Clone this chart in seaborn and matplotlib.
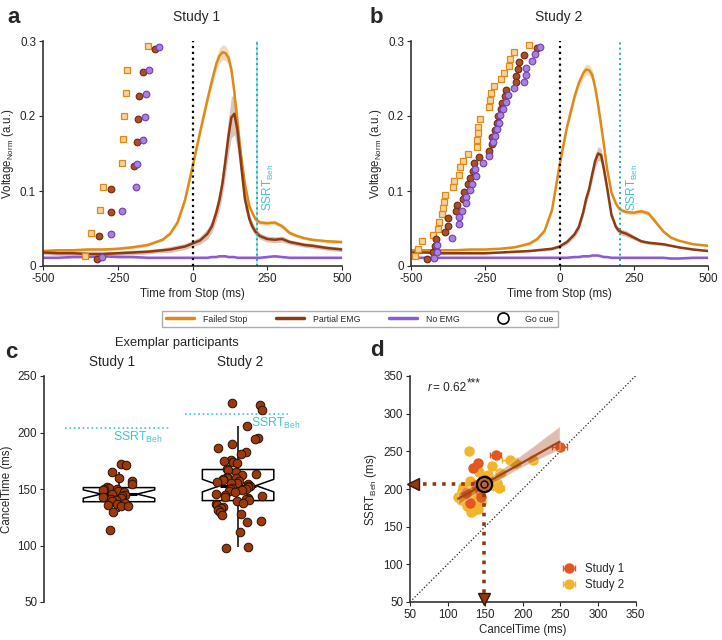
import numpy as np
import pandas as pd
import matplotlib
matplotlib.use("Agg")
import matplotlib.pyplot as plt
from matplotlib.lines import Line2D
import seaborn as sns

# --- time course (panels a, b) ---
t = [-500, -450, -400, -350, -300, -250, -200, -150, -100, -75, -50, -25,
     0, 25, 50, 65, 80, 90, 100, 110, 120, 130, 140, 150, 160, 175, 190, 200, 210, 225,
     250, 275, 300, 325, 350, 375, 400, 450, 500]

a_fs = [0.020, 0.021, 0.021, 0.022, 0.022, 0.023, 0.025, 0.028, 0.035, 0.043, 0.058, 0.088,
        0.132, 0.178, 0.222, 0.247, 0.270, 0.280, 0.285, 0.284, 0.278, 0.262, 0.232, 0.192,
        0.155, 0.110, 0.080, 0.071, 0.063, 0.058,
        0.057, 0.058, 0.053, 0.044, 0.040, 0.037, 0.035, 0.033, 0.032]
a_fs_err = [0.002, 0.002, 0.002, 0.002, 0.002, 0.002, 0.002, 0.002, 0.002, 0.002, 0.003, 0.004,
            0.005, 0.006, 0.007, 0.008, 0.009, 0.010, 0.010, 0.010, 0.009, 0.008, 0.007, 0.006,
            0.005, 0.004, 0.003, 0.003, 0.003, 0.003,
            0.003, 0.003, 0.003, 0.003, 0.002, 0.002, 0.002, 0.002, 0.002]
a_pe = [0.018, 0.017, 0.017, 0.016, 0.016, 0.017, 0.018, 0.019, 0.021, 0.022, 0.024, 0.026,
        0.030, 0.034, 0.043, 0.053, 0.072, 0.088, 0.110, 0.140, 0.172, 0.198, 0.203, 0.182,
        0.145, 0.090, 0.063, 0.053, 0.046, 0.040,
        0.036, 0.035, 0.036, 0.032, 0.030, 0.028, 0.027, 0.024, 0.022]
a_pe_err = [0.003, 0.003, 0.003, 0.003, 0.003, 0.003, 0.003, 0.003, 0.003, 0.004, 0.004, 0.004,
            0.004, 0.005, 0.007, 0.008, 0.011, 0.013, 0.016, 0.020, 0.024, 0.027, 0.028, 0.026,
            0.020, 0.012, 0.008, 0.006, 0.005, 0.004,
            0.004, 0.004, 0.004, 0.003, 0.003, 0.003, 0.003, 0.003, 0.003]
a_ne = [0.011, 0.011, 0.012, 0.012, 0.013, 0.012, 0.012, 0.011, 0.011, 0.011, 0.011, 0.011,
        0.011, 0.011, 0.011, 0.012, 0.012, 0.013, 0.013, 0.013, 0.012, 0.012, 0.012, 0.011,
        0.011, 0.011, 0.011, 0.011, 0.011, 0.011,
        0.012, 0.013, 0.012, 0.011, 0.011, 0.011, 0.011, 0.011, 0.011]

b_fs = [0.021, 0.021, 0.021, 0.021, 0.022, 0.022, 0.023, 0.025, 0.030, 0.036, 0.047, 0.075,
        0.134, 0.185, 0.225, 0.244, 0.257, 0.262, 0.261, 0.255, 0.238, 0.215, 0.188, 0.160,
        0.130, 0.098, 0.083, 0.077, 0.074, 0.072,
        0.071, 0.073, 0.070, 0.058, 0.046, 0.038, 0.034, 0.029, 0.027]
b_fs_err = [0.001, 0.001, 0.001, 0.001, 0.001, 0.001, 0.001, 0.001, 0.002, 0.002, 0.002, 0.003,
            0.004, 0.005, 0.006, 0.006, 0.007, 0.007, 0.007, 0.007, 0.006, 0.006, 0.005, 0.004,
            0.004, 0.003, 0.003, 0.003, 0.003, 0.003,
            0.003, 0.003, 0.003, 0.003, 0.002, 0.002, 0.001, 0.001, 0.001]
b_pe = [0.018, 0.018, 0.017, 0.017, 0.017, 0.017, 0.018, 0.019, 0.020, 0.021, 0.022, 0.023,
        0.026, 0.032, 0.042, 0.052, 0.072, 0.090, 0.103, 0.122, 0.140, 0.150, 0.148, 0.128,
        0.105, 0.068, 0.052, 0.047, 0.045, 0.043,
        0.038, 0.033, 0.031, 0.030, 0.029, 0.027, 0.025, 0.022, 0.020]
b_pe_err = [0.001, 0.001, 0.001, 0.001, 0.001, 0.001, 0.001, 0.001, 0.001, 0.001, 0.002, 0.002,
            0.002, 0.003, 0.004, 0.005, 0.006, 0.007, 0.007, 0.008, 0.009, 0.009, 0.009, 0.008,
            0.006, 0.004, 0.004, 0.004, 0.004, 0.004,
            0.003, 0.002, 0.002, 0.002, 0.002, 0.001, 0.001, 0.001, 0.001]
b_ne = [0.011, 0.011, 0.011, 0.011, 0.011, 0.011, 0.011, 0.011, 0.011, 0.011, 0.011, 0.011,
        0.011, 0.011, 0.012, 0.012, 0.013, 0.013, 0.013, 0.014, 0.014, 0.014, 0.013, 0.012,
        0.012, 0.011, 0.011, 0.011, 0.011, 0.011,
        0.011, 0.011, 0.011, 0.011, 0.011, 0.010, 0.010, 0.011, 0.011]

ssrt_a = 215
ssrt_b = 205

# go cue onsets (panel a)
a_go_fs_x = [-150, -218, -221, -230, -234, -237, -298, -309, -338, -360]
a_go_fs_y = [0.293, 0.262, 0.231, 0.200, 0.169, 0.138, 0.106, 0.075, 0.044, 0.014]
a_go_pe_x = [-127, -165, -180, -183, -185, -196, -271, -274, -312, -320]
a_go_pe_y = [0.290, 0.259, 0.227, 0.196, 0.165, 0.134, 0.103, 0.072, 0.040, 0.010]
a_go_ne_x = [-111, -147, -155, -160, -167, -185, -188, -236, -273, -303]
a_go_ne_y = [0.292, 0.261, 0.229, 0.199, 0.168, 0.136, 0.105, 0.074, 0.043, 0.012]

# go cue onsets (panel b)
b_go_fs_x = [-103, -152, -166, -169, -188, -197, -222, -230, -234, -237, -267, -273, -274,
             -279, -279, -309, -326, -334, -337, -354, -360, -385, -388, -393, -397, -407,
             -410, -425, -462, -478, -487]
b_go_fs_y = [0.295, 0.285, 0.276, 0.267, 0.258, 0.249, 0.240, 0.231, 0.222, 0.212, 0.196,
             0.186, 0.177, 0.168, 0.159, 0.149, 0.140, 0.132, 0.122, 0.113, 0.105, 0.095,
             0.086, 0.077, 0.069, 0.059, 0.050, 0.041, 0.033, 0.023, 0.014]
b_go_pe_x = [-76, -118, -136, -140, -145, -146, -180, -183, -192, -198, -206, -212, -217,
             -226, -228, -237, -270, -288, -290, -301, -309, -320, -324, -346, -348, -374,
             -374, -385, -417, -419, -427, -447]
b_go_pe_y = [0.291, 0.281, 0.272, 0.263, 0.254, 0.245, 0.235, 0.227, 0.218, 0.209, 0.200,
             0.191, 0.182, 0.172, 0.163, 0.154, 0.146, 0.137, 0.127, 0.118, 0.109, 0.099,
             0.090, 0.081, 0.073, 0.064, 0.054, 0.046, 0.036, 0.027, 0.019, 0.010]
b_go_ne_x = [-67, -82, -91, -112, -114, -121, -153, -175, -180, -191, -200, -203, -211,
             -217, -225, -237, -256, -284, -282, -295, -301, -315, -316, -329, -337, -340,
             -361, -411, -413, -422]
b_go_ne_y = [0.292, 0.283, 0.273, 0.264, 0.255, 0.246, 0.237, 0.228, 0.219, 0.210, 0.201,
             0.191, 0.183, 0.173, 0.165, 0.147, 0.138, 0.129, 0.120, 0.110, 0.101, 0.092,
             0.084, 0.074, 0.065, 0.056, 0.037, 0.028, 0.019, 0.011]

# --- exemplar participants (panel c) ---
c_study1 = [172, 171, 165, 160, 157, 154, 152, 151, 150, 150, 149, 148, 147, 146, 145,
            144, 143, 142, 141, 140, 139, 138, 137, 136, 135, 135, 130, 114]
c_study2 = [226, 224, 220, 206, 195, 194, 190, 186, 183, 181, 176, 175, 174, 173, 168,
            167, 165, 163, 162, 161, 160, 160, 159, 158, 157, 156, 155, 155, 154, 153,
            153, 152, 151, 150, 150, 149, 148, 147, 146, 145, 144, 143, 142, 141, 140,
            139, 138, 137, 136, 134, 133, 131, 130, 128, 127, 122, 121, 112, 99, 98]
c_ssrt = [204, 216]

# --- CancelTime vs SSRT (panel d) ---
d_s1_x = [249, 164, 141, 134, 143, 130, 150, 138, 125, 145]
d_s1_y = [256, 245, 235, 228, 198, 182, 212, 205, 195, 190]
d_s1_xerr = [10, 7, 3, 3, 3, 3, 3, 3, 3, 3]
d_s2_x = [128, 183, 190, 214, 159, 142, 154, 170, 130, 166, 168, 121, 119, 114, 134,
          128, 126, 130, 139, 131, 145, 137, 150, 124, 135, 140, 160, 118, 133, 127]
d_s2_y = [250, 238, 234, 238, 230, 223, 219, 221, 211, 208, 201, 203, 197, 190, 192,
          185, 177, 176, 179, 170, 183, 205, 216, 190, 172, 174, 205, 186, 198, 180]
d_s2_xerr = [3, 10, 6, 4, 3, 3, 3, 6, 3, 4, 7, 3, 3, 3, 3,
             3, 3, 3, 3, 3, 3, 3, 3, 3, 3, 3, 3, 3, 3, 3]
d_mean = (148, 207)
d_r = 0.62

C_FS = "#de8a17"
C_PE = "#8e3a12"
C_NE = "#8a5bd8"
C_CYAN = "#3ec6cc"
C_S1 = "#e2561f"
C_S2 = "#f2b42a"

sns.set_style("ticks")
plt.rcParams["font.family"] = ["Liberation Sans", "DejaVu Sans"]
plt.rcParams["mathtext.default"] = "regular"
plt.rcParams["font.size"] = 8
plt.rcParams["axes.labelsize"] = 8.3
plt.rcParams["axes.linewidth"] = 1.2
plt.rcParams["axes.edgecolor"] = "#333333"
plt.rcParams["xtick.major.size"] = 3
plt.rcParams["ytick.major.size"] = 3
plt.rcParams["xtick.major.pad"] = 2
plt.rcParams["ytick.major.pad"] = 2
plt.rcParams["xtick.labelsize"] = 8.4
plt.rcParams["ytick.labelsize"] = 8.4

fig = plt.figure(figsize=(7.22, 6.4), dpi=100)
W, H = 722.0, 640.0


def px_axes(x0, x1, y0, y1):
    return fig.add_axes([x0 / W, 1 - y1 / H, (x1 - x0) / W, (y1 - y0) / H])


def time_panel(ax, fs, fs_err, pe, pe_err, ne, ssrt, go, thick_ssrt):
    df = pd.DataFrame({
        "time": t * 3,
        "v": fs + pe + ne,
        "cond": ["Failed Stop"] * len(t) + ["Partial EMG"] * len(t) + ["No EMG"] * len(t),
    })
    for vals, err, col in [(fs, fs_err, C_FS), (pe, pe_err, C_PE), (ne, [0.0015] * len(t), C_NE)]:
        v = np.array(vals)
        e = np.array(err)
        ax.fill_between(t, v - e, v + e, color=col, alpha=0.3, lw=0)
    sns.lineplot(data=df, x="time", y="v", hue="cond",
                 palette={"Failed Stop": C_FS, "Partial EMG": C_PE, "No EMG": C_NE},
                 lw=1.8, legend=False, ax=ax)
    # go cue markers
    (fx, fy), (px_, py_), (nx, ny) = go
    ax.errorbar(fx, fy, xerr=6, fmt="s", ms=4.3, mfc="#f7d29c", mec=C_FS, mew=0.9,
                ecolor=C_FS, elinewidth=0.8, capsize=1.5, zorder=4)
    ax.errorbar(px_, py_, xerr=4, fmt="o", ms=4.8, mfc="#a85128", mec="#6e2a0c", mew=0.8,
                ecolor="#4a1a05", elinewidth=0.8, capsize=0, zorder=4)
    ax.errorbar(nx, ny, xerr=4, fmt="o", ms=4.8, mfc="#a97fe0", mec="#6f3fb8", mew=0.8,
                ecolor="#5a2ea0", elinewidth=0.8, capsize=0, zorder=4)
    ax.axvline(0, color="k", ls=":", lw=1.6, zorder=3)
    if thick_ssrt:
        ax.axvspan(ssrt - 4, ssrt + 4, color=C_CYAN, alpha=0.45, lw=0)
    ax.axvline(ssrt, color="#2aaab0", ls=":", lw=1.4)
    ax.text(ssrt + 40, 0.105, r"SSRT$_{Beh}$", color=C_CYAN, rotation=90,
            ha="center", va="center", fontsize=8.5)
    ax.set_xlim(-500, 500)
    ax.set_ylim(0, 0.3)
    ax.set_xticks([-500, -250, 0, 250, 500])
    ax.set_xticklabels(["-500", "-250", "0", "250", "500"])
    ax.set_yticks([0, 0.1, 0.2, 0.3])
    ax.set_yticklabels(["0", "0.1", "0.2", "0.3"])
    ax.set_xlabel("Time from Stop (ms)", labelpad=2)
    ax.set_ylabel(r"Voltage$_{Norm}$ (a.u.)", labelpad=3)
    sns.despine(ax=ax)


# panel a
ax_a = px_axes(43, 342, 41, 266)
time_panel(ax_a, a_fs, a_fs_err, a_pe, a_pe_err, a_ne, ssrt_a,
           [(a_go_fs_x, a_go_fs_y), (a_go_pe_x, a_go_pe_y), (a_go_ne_x, a_go_ne_y)], True)
# panel b
ax_b = px_axes(411, 708, 41, 266)
time_panel(ax_b, b_fs, b_fs_err, b_pe, b_pe_err, b_ne, ssrt_b,
           [(b_go_fs_x, b_go_fs_y), (b_go_pe_x, b_go_pe_y), (b_go_ne_x, b_go_ne_y)], False)

fig.text(197 / W, 1 - 17 / H, "Study 1", ha="center", va="center", fontsize=10)
fig.text(559 / W, 1 - 17 / H, "Study 2", ha="center", va="center", fontsize=10)

# shared legend
handles = [Line2D([], [], color=C_FS, lw=2.5), Line2D([], [], color=C_PE, lw=2.5),
           Line2D([], [], color=C_NE, lw=2.5),
           Line2D([], [], ls="none", marker="o", ms=8, mfc="none", mec="k", mew=1.2)]
leg = fig.legend(handles, ["Failed Stop", "Partial EMG", "No EMG", "Go cue"],
                 loc="center", bbox_to_anchor=(360 / W, 1 - 319 / H), ncol=4,
                 fontsize=6.3, handlelength=3.2, columnspacing=3.3, frameon=True,
                 fancybox=False, borderpad=0.45, handletextpad=1.0)
leg.get_frame().set_edgecolor("#999999")
leg.get_frame().set_linewidth(1.0)

# panel c
ax_c = px_axes(44, 300, 376, 602)
df_c = pd.DataFrame({
    "study": ["Study 1"] * len(c_study1) + ["Study 2"] * len(c_study2),
    "cancel": c_study1 + c_study2,
})
order = ["Study 1", "Study 2"]
np.random.seed(3)
for name, jit in [("Study 1", 0.14), ("Study 2", 0.21)]:
    sns.stripplot(data=df_c[df_c["study"] == name], x="study", y="cancel", order=order,
                  ax=ax_c, color="#9a3a0c", jitter=jit, edgecolor="#2b0f05",
                  linewidth=0.7, size=6.2)
sns.boxplot(data=df_c, x="study", y="cancel", order=order, ax=ax_c, width=0.6, fill=False,
            color="black", linewidth=1.1, showfliers=False, showcaps=False,
            shownotches=True, whis=1.5, medianprops={"linewidth": 2.2})
for i, s in enumerate(c_ssrt):
    ax_c.plot([i - 0.45, i + 0.42], [s, s], ls=":", color=C_CYAN, lw=1.2)
ax_c.text(0.16, 196, r"SSRT$_{Beh}$", color=C_CYAN, ha="center", va="center", fontsize=8.8)
ax_c.text(1.32, 208, r"SSRT$_{Beh}$", color=C_CYAN, ha="center", va="center", fontsize=8.8)
ax_c.set_xlim(-0.63, 1.52)
ax_c.set_ylim(50, 250)
ax_c.set_yticks([50, 100, 150, 200, 250])
ax_c.set_xticks([])
ax_c.set_xlabel("")
ax_c.set_ylabel("CancelTime (ms)", labelpad=3)
ax_c.text(-0.06, 256, "Study 1", ha="center", va="bottom", fontsize=9.8)
ax_c.text(1.02, 256, "Study 2", ha="center", va="bottom", fontsize=9.8)
ax_c.text(0.49, 274, "Exemplar participants", ha="center", va="bottom", fontsize=9.3)
sns.despine(ax=ax_c, bottom=True)

# panel d
ax_d = px_axes(410, 635.5, 376, 602)
ax_d.plot([50, 350], [50, 350], ls=":", color="#222222", lw=0.9)
ax_d.errorbar(d_s2_x, d_s2_y, xerr=d_s2_xerr, fmt="o", ms=6.5, color=C_S2, mec=C_S2,
              elinewidth=1, capsize=2, label="Study 2", zorder=3)
ax_d.errorbar(d_s1_x, d_s1_y, xerr=d_s1_xerr, fmt="o", ms=6.5, color=C_S1, mec=C_S1,
              elinewidth=1, capsize=2, label="Study 1", zorder=3)
sns.regplot(x=np.array(d_s1_x + d_s2_x), y=np.array(d_s1_y + d_s2_y), scatter=False,
            color="#a2441a", line_kws={"lw": 1.6, "zorder": 5}, seed=0, ax=ax_d, truncate=True)
ax_d.collections[-1].set_alpha(0.35)
ax_d.collections[-1].set_zorder(4)
mx, my = d_mean
ax_d.plot([mx, 56], [my, my], ls=":", color=C_PE, lw=2.6, zorder=6)
ax_d.plot([mx, mx], [my, 56], ls=":", color=C_PE, lw=2.6, zorder=6)
ax_d.plot([54], [my], marker="<", ms=9, color=C_PE, mec="#3a1505", clip_on=False, zorder=7)
ax_d.plot([mx], [54], marker="v", ms=9, color=C_PE, mec="#3a1505", clip_on=False, zorder=7)
ax_d.plot([mx], [my], marker="o", ms=11, mfc="#b8653e", mec="k", mew=1.6, zorder=8)
ax_d.plot([mx], [my], marker="o", ms=5, mfc="none", mec="k", mew=1.0, zorder=9)
ax_d.text(74, 334, "r", style="italic", ha="left", va="center", fontsize=8.5)
ax_d.text(81, 334, f"= {d_r:.2f}", ha="left", va="center", fontsize=8.5)
ax_d.text(126, 340, "***", ha="left", va="center", fontsize=8.5)
ax_d.set_xlim(50, 350)
ax_d.set_ylim(50, 350)
ax_d.set_xticks(range(50, 351, 50))
ax_d.set_yticks(range(50, 351, 50))
ax_d.set_xlabel("CancelTime (ms)", labelpad=2)
ax_d.set_ylabel(r"SSRT$_{Beh}$ (ms)", labelpad=3)
h, l = ax_d.get_legend_handles_labels()
ax_d.legend(h[::-1], l[::-1], loc="lower right", bbox_to_anchor=(0.97, 0.03), frameon=False,
            fontsize=8.3, handlelength=1.6, handletextpad=0.6, labelspacing=0.3,
            borderaxespad=0)
sns.despine(ax=ax_d)

# panel letters
for x, y, s in [(7, 7, "a"), (370, 7, "b"), (5, 342, "c"), (370, 340, "d")]:
    fig.text(x / W, 1 - y / H, s, fontsize=16, fontweight="bold", ha="left", va="top")

fig.savefig("out.png", dpi=100)
